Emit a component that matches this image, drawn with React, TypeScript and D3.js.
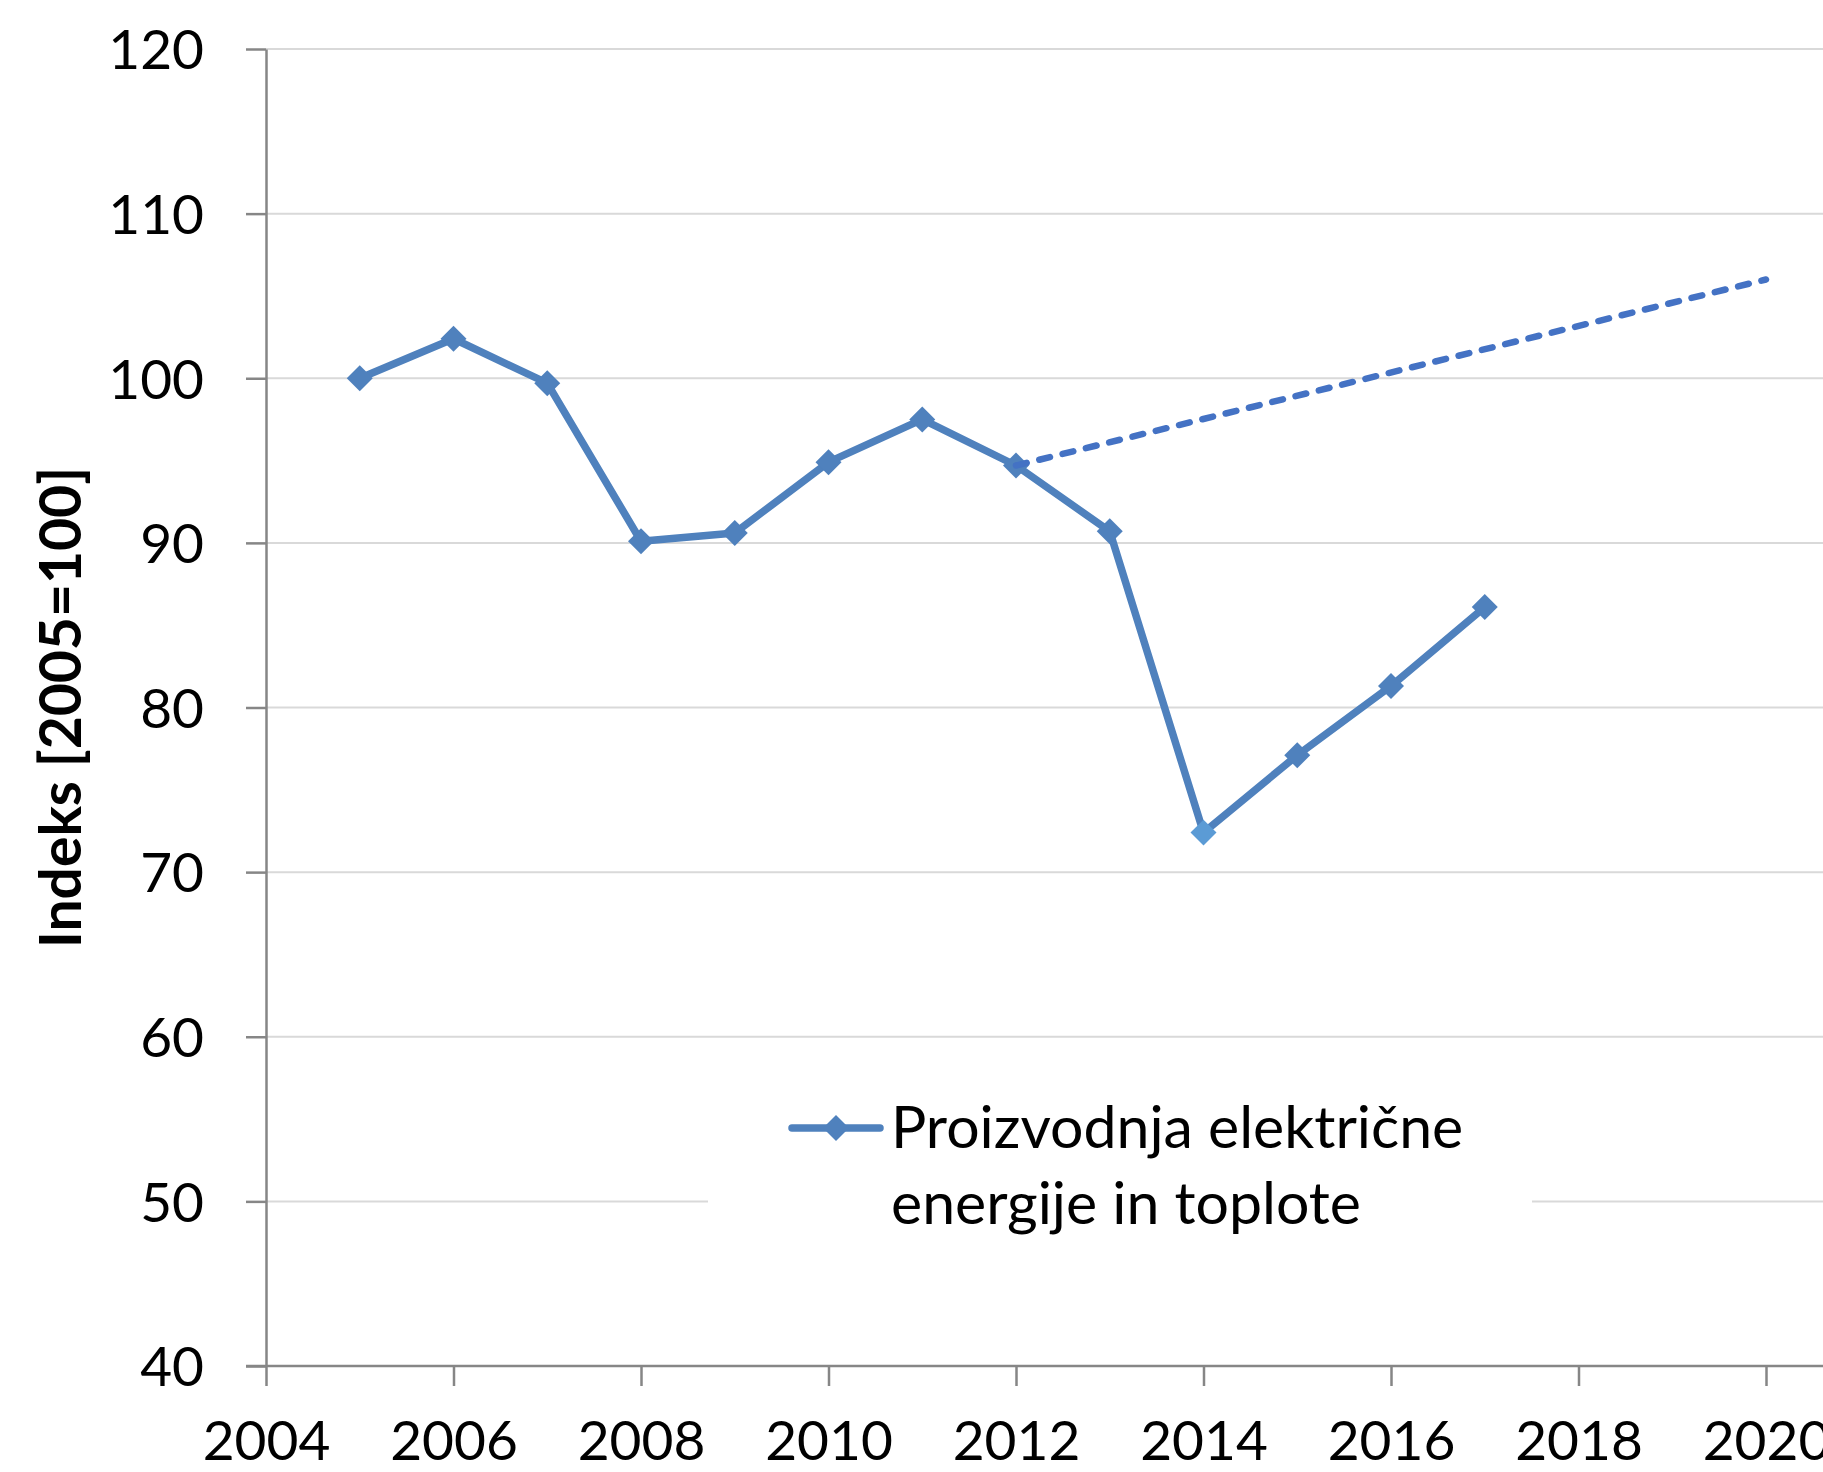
import React, { useEffect, useRef } from "react";
import * as d3 from "d3";

const years = [2005, 2006, 2007, 2008, 2009, 2010, 2011, 2012, 2013, 2014, 2015, 2016, 2017];
const values = [100.0, 102.4, 99.7, 90.1, 90.6, 94.9, 97.5, 94.7, 90.7, 72.4, 77.1, 81.3, 86.1];
const targetYears = [2012, 2020];
const targetValues = [94.7, 106.0];
const xTicks = [2004, 2006, 2008, 2010, 2012, 2014, 2016, 2018, 2020];
const yTicks = [40, 50, 60, 70, 80, 90, 100, 110, 120];
const legendLines = ["Proizvodnja električne", "energije in toplote"];
const yTitle = "Indeks [2005=100]";

const W = 1823;
const H = 1472;
const FONT = "Lato, 'Open Sans', sans-serif";

export default function App() {
  const svgRef = useRef<SVGSVGElement>(null);

  useEffect(() => {
    document.body.style.margin = "0";
    const svg = d3.select(svgRef.current);
    svg.selectAll("*").remove();
    svg.attr("width", W).attr("height", H);

    const left = 266;
    const x = d3.scaleLinear().domain([2004, 2020]).range([left, 1766]);
    const y = d3.scaleLinear().domain([40, 120]).range([1366, 49]);

    svg.append("rect").attr("width", W).attr("height", H).attr("fill", "#fff");

    // gridlines
    svg.append("g")
      .selectAll("line")
      .data(yTicks.filter((d) => d > 40))
      .join("line")
      .attr("x1", left)
      .attr("x2", W)
      .attr("y1", (d) => y(d))
      .attr("y2", (d) => y(d))
      .attr("stroke", "#d9d9d9")
      .attr("stroke-width", 2);

    // y axis
    const yAxis = svg.append("g").attr("transform", `translate(${left},0)`)
      .call(d3.axisLeft(y).tickValues(yTicks).tickSize(20).tickPadding(42).tickSizeOuter(0));
    yAxis.select(".domain").attr("stroke", "#868686").attr("stroke-width", 2.5);
    yAxis.selectAll(".tick line").attr("stroke", "#868686").attr("stroke-width", 2.5);
    yAxis.selectAll(".tick text")
      .attr("font-family", FONT)
      .attr("font-size", 55)
      .attr("fill", "#000")
      .attr("dy", "0.36em");

    // x axis
    const xAxis = svg.append("g").attr("transform", `translate(0,${y(40)})`)
      .call(d3.axisBottom(x).tickValues(xTicks).tickFormat(d3.format("d")).tickSize(20).tickPadding(35).tickSizeOuter(0));
    xAxis.select(".domain").remove();
    xAxis.append("line")
      .attr("x1", left - 20).attr("x2", W)
      .attr("stroke", "#868686").attr("stroke-width", 2.5);
    xAxis.selectAll(".tick line").attr("stroke", "#868686").attr("stroke-width", 2.5);
    xAxis.selectAll(".tick text")
      .attr("font-family", FONT)
      .attr("font-size", 55)
      .attr("fill", "#000")
      .attr("dy", "0.71em");

    // y title
    svg.append("text")
      .attr("transform", `translate(81,${(y(40) + y(120)) / 2}) rotate(-90)`)
      .attr("text-anchor", "middle")
      .attr("font-family", FONT)
      .attr("font-weight", "bold")
      .attr("font-size", 57)
      .text(yTitle);

    // legend box (hides gridline behind it)
    svg.append("rect")
      .attr("x", 708).attr("y", 1070)
      .attr("width", 824).attr("height", 190)
      .attr("fill", "#fff");

    const line = d3.line<number>()
      .x((_, i) => x(years[i]))
      .y((d) => y(d));

    const tline = d3.line<number>()
      .x((_, i) => x(targetYears[i]))
      .y((d) => y(d));

    const diamond = d3.symbol().type(d3.symbolDiamond2).size(430);

    svg.append("path")
      .datum(values)
      .attr("d", line)
      .attr("fill", "none")
      .attr("stroke", "#4f81bd")
      .attr("stroke-width", 7.5)
      .attr("stroke-linejoin", "round");

    svg.append("g")
      .selectAll("path")
      .data(values)
      .join("path")
      .attr("transform", (d, i) => `translate(${x(years[i])},${y(d)})`)
      .attr("d", diamond)
      .attr("fill", (_, i) => (years[i] === 2014 ? "#5b9bd5" : "#4f81bd"));

    svg.append("path")
      .datum(targetValues)
      .attr("d", tline)
      .attr("fill", "none")
      .attr("stroke", "#4472c4")
      .attr("stroke-width", 6.5)
      .attr("stroke-linecap", "round")
      .attr("stroke-dasharray", "11,13");

    // legend
    const lg = svg.append("g");
    lg.append("line")
      .attr("x1", 792).attr("x2", 880)
      .attr("y1", 1128).attr("y2", 1128)
      .attr("stroke", "#4f81bd")
      .attr("stroke-width", 7.5)
      .attr("stroke-linecap", "round");
    lg.append("path")
      .attr("transform", "translate(836,1128)")
      .attr("d", diamond)
      .attr("fill", "#4f81bd");
    lg.selectAll("text")
      .data(legendLines)
      .join("text")
      .attr("x", 891)
      .attr("y", (_, i) => 1148 + i * 76)
      .attr("font-family", FONT)
      .attr("font-size", 59)
      .attr("fill", "#000")
      .text((d) => d);
  }, []);

  return <svg ref={svgRef} style={{ display: "block" }} />;
}
